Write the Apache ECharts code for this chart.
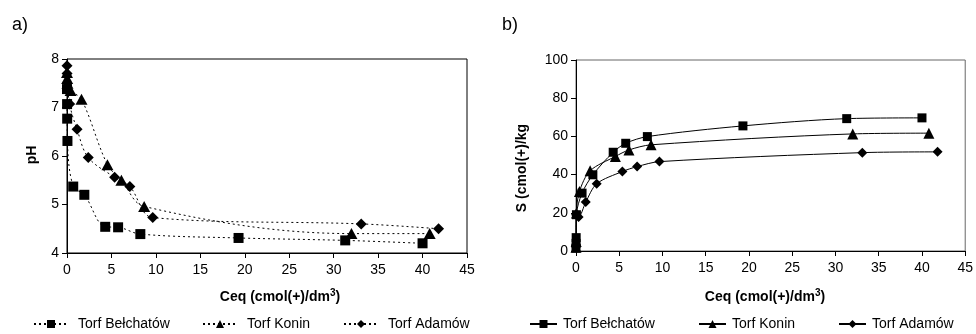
<!DOCTYPE html>
<html><head><meta charset="utf-8">
<script src="https://cdn.jsdelivr.net/npm/echarts@6/dist/echarts.min.js"></script>
<style>
html,body{margin:0;padding:0;background:#fff;}
#wrap{position:relative;width:976px;height:334px;}
#ca{position:absolute;left:0;top:0;width:488px;height:334px;}
#cb{position:absolute;left:488px;top:0;width:488px;height:334px;}
</style></head>
<body><div id="wrap"><div id="ca"></div><div id="cb"></div></div>
<script>
// Series names
const names = ['Torf Bełchatów', 'Torf Konin', 'Torf Adamów'];
// Ceq (cmol(+)/dm3) per series
const ceqBelchatow = [0, 0.01, 0.02, 0.05, 0.7, 1.95, 4.3, 5.75, 8.25, 19.3, 31.3, 40.0];
const ceqKonin     = [0, 0.02, 0.05, 0.4, 1.63, 4.55, 6.12, 8.68, 32.0, 40.8];
const ceqAdamow    = [0, 0.01, 0.3, 1.13, 2.39, 5.36, 7.07, 9.65, 33.1, 41.8];
// pH (chart a)
const phBelchatow = [7.38, 7.07, 6.77, 6.31, 5.37, 5.20, 4.54, 4.53, 4.39, 4.31, 4.26, 4.20];
const phKonin     = [7.72, 7.6, 7.5, 7.35, 7.17, 5.82, 5.50, 4.96, 4.40, 4.40];
const phAdamow    = [7.86, 7.7, 7.07, 6.55, 5.97, 5.56, 5.37, 4.73, 4.60, 4.50];
// S (cmol(+)/kg) (chart b)
const sBelchatow = [1.5, 4, 7, 19, 30.3, 39.9, 51.7, 56.4, 59.9, 65.5, 69.3, 69.7];
const sKonin     = [2, 5, 19.9, 31.2, 42.0, 49.5, 52.9, 55.6, 61.3, 61.7];
const sAdamow    = [3, 19, 17.8, 25.6, 35.2, 41.6, 44.2, 46.8, 51.5, 51.9];
// tick settings
const xTicks = {min: 0, max: 45, interval: 5};
const phTicks = {min: 4, max: 8, interval: 1};
const sTicks = {min: 0, max: 100, interval: 20};

function pairs(xs, ys){ return xs.map((x,i)=>[x, ys[i]]); }

const FONT = 'Liberation Sans, Arial, sans-serif';
const symbols = ['rect', 'triangle', 'diamond'];

function axisX(){
  return {type:'value', min:xTicks.min, max:xTicks.max, interval:xTicks.interval,
    axisLine:{show:true, onZero:false, lineStyle:{color:'#000', width:1}},
    axisTick:{show:true, inside:false, length:5, lineStyle:{color:'#000'}},
    axisLabel:{color:'#000', fontSize:14, fontFamily:FONT, margin:10},
    splitLine:{show:false}};
}
function axisY(t){
  return {type:'value', min:t.min, max:t.max, interval:t.interval,
    axisLine:{show:true, onZero:false, lineStyle:{color:'#000', width:1}},
    axisTick:{show:true, inside:false, length:5, lineStyle:{color:'#000'}},
    axisLabel:{color:'#000', fontSize:14, fontFamily:FONT, margin:8},
    splitLine:{show:false}};
}
function legends(lefts, top, itemWidth, pad){
  return names.map((n,i)=>({data:[n], left:lefts[i], top:top, itemWidth:itemWidth, itemHeight:10,
    selectedMode:false, itemGap:0, padding:0,
    textStyle:{color:'#000', fontSize:14, fontFamily:FONT, padding:[0,0,0,pad]}}));
}
function txt(x, y, text, size, bold, rot){
  return {type:'text', x:x, y:y, rotation:rot||0, style:{text:text, fontSize:size,
    fontWeight:bold?'bold':'normal', fontFamily:FONT, fill:'#000',
    textAlign:'center', textVerticalAlign:'middle', align:'center', verticalAlign:'middle'}};
}
function xTitle(cx){
  return {type:'text', x:cx, y:297, style:{
    text:'{a|Ceq (cmol(+)/dm}{s|3}{a|)}',
    textAlign:'center', textVerticalAlign:'middle', align:'center', verticalAlign:'middle',
    rich:{a:{fontSize:14, fontWeight:'bold', fontFamily:FONT, fill:'#000'},
          s:{fontSize:10, fontWeight:'bold', fontFamily:FONT, fill:'#000', verticalAlign:'top', padding:[0,0,7,0]}}}};
}

const chartA = echarts.init(document.getElementById('ca'), null, {renderer:'canvas'});
const seriesA = [[ceqBelchatow, phBelchatow, 10], [ceqKonin, phKonin, [12,11]], [ceqAdamow, phAdamow, 11]].map((d,i)=>({
  name:names[i], type:'line', data:pairs(d[0], d[1]), smooth:0.35,
  symbol:symbols[i], symbolSize:d[2], showSymbol:true,
  itemStyle:{color:'#000'}, lineStyle:{color:'#000', width:1, type:[2,3]}, animation:false, z: 3-i
}));
chartA.setOption({
  animation:false,
  grid:{left:67, top:59, right:21, bottom:81, show:true, borderColor:'#000', borderWidth:1, containLabel:false},
  xAxis:axisX(), yAxis:axisY(phTicks),
  legend:legends([33, 202, 343], 317, 34, 5),
  series:seriesA,
  graphic:[
    txt(20, 25, 'a)', 18, false),
    txt(32, 155, 'pH', 14, true, Math.PI/2),
    xTitle(280)
  ]
});

const chartB = echarts.init(document.getElementById('cb'), null, {renderer:'canvas'});
const seriesB = [[ceqBelchatow, sBelchatow, 9], [ceqKonin, sKonin, 11], [ceqAdamow, sAdamow, 10]].map((d,i)=>({
  name:names[i], type:'line', data:pairs(d[0], d[1]), smooth:0.3,
  symbol:symbols[i], symbolSize:d[2], showSymbol:true,
  itemStyle:{color:'#000'}, lineStyle:{color:'#000', width:1, type:'solid'}, animation:false, z: 3-i
}));
chartB.setOption({
  animation:false,
  grid:{left:88, top:60, right:9, bottom:83, show:true, borderColor:'#666', borderWidth:1, containLabel:false},
  xAxis:axisX(), yAxis:axisY(sTicks),
  legend:legends([41, 210, 350], 317, 27, 1),
  series:seriesB,
  graphic:[
    txt(22, 25, 'b)', 18, false),
    txt(34, 168, 'S (cmol(+)/kg', 14, true, Math.PI/2),
    xTitle(277)
  ]
});
</script></body></html>
